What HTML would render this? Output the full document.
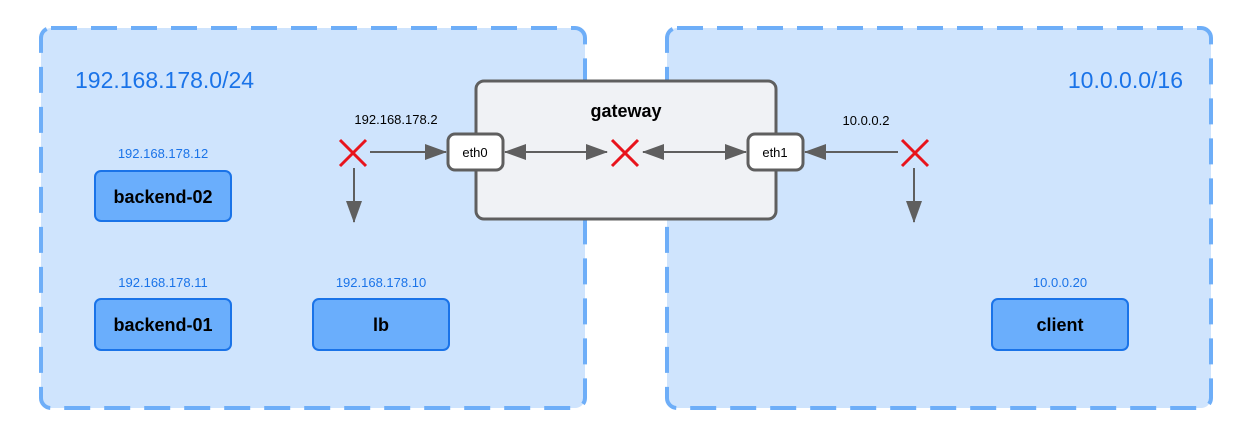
<!DOCTYPE html>
<html><head><meta charset="utf-8"><style>body{margin:0;background:#fff}svg{display:block}text{font-family:"Liberation Sans",sans-serif}</style></head><body>
<svg width="1238" height="444" viewBox="0 0 1238 444">
<defs><marker id="a" markerWidth="10" markerHeight="10" refX="9" refY="5" orient="auto-start-reverse" markerUnits="userSpaceOnUse"><path d="M0,0 L10,5 L0,10z" fill="#5f5f5f" transform="scale(1)"/></marker>
<marker id="b" markerWidth="22" markerHeight="16" refX="21" refY="8" orient="auto-start-reverse" markerUnits="userSpaceOnUse"><path d="M0,0 L22,8 L0,16z" fill="#5f5f5f"/></marker></defs>
<rect x="41" y="28" width="544" height="380" rx="10" fill="#cfe4fd" stroke="#6eaef8" stroke-width="4" stroke-dasharray="26 14"/>
<rect x="667" y="28" width="544" height="380" rx="10" fill="#cfe4fd" stroke="#6eaef8" stroke-width="4" stroke-dasharray="26 14"/>
<text x="75" y="88" font-size="23" fill="#1a73e8">192.168.178.0/24</text>
<text x="1183" y="88" font-size="23" fill="#1a73e8" text-anchor="end">10.0.0.0/16</text>
<rect x="476" y="81" width="300" height="138" rx="8" fill="#f0f2f5" stroke="#5f5f5f" stroke-width="3"/>
<text x="626" y="117" font-size="18" font-weight="bold" text-anchor="middle" fill="#000">gateway</text>
<g stroke="#5f5f5f" stroke-width="2" fill="none">
<line x1="370" y1="152" x2="446" y2="152" marker-end="url(#b)"/>
<line x1="505" y1="152" x2="607" y2="152" marker-start="url(#b)" marker-end="url(#b)"/>
<line x1="643" y1="152" x2="746" y2="152" marker-start="url(#b)" marker-end="url(#b)"/>
<line x1="805" y1="152" x2="898" y2="152" marker-start="url(#b)"/>
<line x1="354" y1="168" x2="354" y2="222" marker-end="url(#b)"/>
<line x1="914" y1="168" x2="914" y2="222" marker-end="url(#b)"/>
</g>
<rect x="448" y="134" width="55" height="36" rx="7" fill="#fff" stroke="#5f5f5f" stroke-width="3"/>
<text x="475" y="157" font-size="13" text-anchor="middle">eth0</text>
<rect x="748" y="134" width="55" height="36" rx="7" fill="#fff" stroke="#5f5f5f" stroke-width="3"/>
<text x="775" y="157" font-size="13" text-anchor="middle">eth1</text>
<g stroke="#e8141c" stroke-width="3">
<path d="M340,140 L366,166 M366,140 L340,166"/>
<path d="M612,140 L638,166 M638,140 L612,166"/>
<path d="M902,140 L928,166 M928,140 L902,166"/>
</g>
<text x="396" y="124" font-size="13" text-anchor="middle">192.168.178.2</text>
<text x="866" y="125" font-size="13" text-anchor="middle">10.0.0.2</text>
<g fill="#6aaefc" stroke="#1a73e8" stroke-width="2">
<rect x="95" y="171" width="136" height="50" rx="6"/>
<rect x="95" y="299" width="136" height="51" rx="6"/>
<rect x="313" y="299" width="136" height="51" rx="6"/>
<rect x="992" y="299" width="136" height="51" rx="6"/>
</g>
<g font-size="18" font-weight="bold" text-anchor="middle" fill="#000">
<text x="163" y="203">backend-02</text>
<text x="163" y="331">backend-01</text>
<text x="381" y="331">lb</text>
<text x="1060" y="331">client</text>
</g>
<g font-size="13" text-anchor="middle" fill="#1a73e8">
<text x="163" y="158">192.168.178.12</text>
<text x="163" y="287">192.168.178.11</text>
<text x="381" y="287">192.168.178.10</text>
<text x="1060" y="287">10.0.0.20</text>
</g>
</svg>
</body></html>
